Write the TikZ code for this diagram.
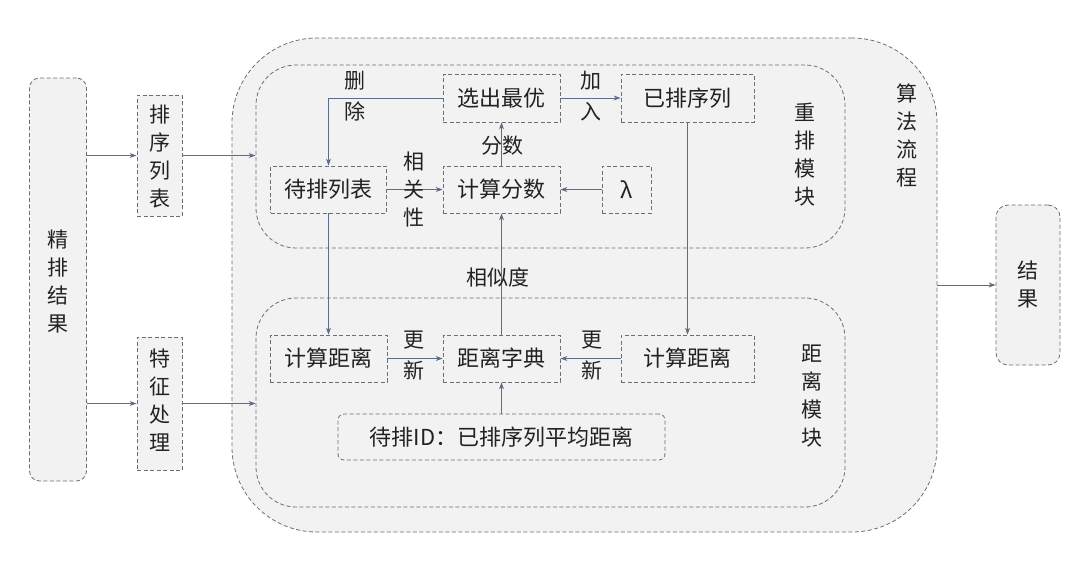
\documentclass[tikz,border=0pt]{standalone}
\usepackage{fontspec}
\newfontfamily\cjk{Noto Sans CJK SC}
\usetikzlibrary{arrows.meta}
\definecolor{boxfill}{HTML}{F2F2F2}
\definecolor{bordergray}{HTML}{6E6E6E}
\definecolor{arrowcol}{HTML}{5B6E88}
\definecolor{txt}{HTML}{222222}
\tikzset{
  base/.style={draw=bordergray, dash pattern=on 4pt off 2.5pt, fill=boxfill, line width=0.8pt, inner sep=0pt, text=txt},
  stepbox/.style={base, font=\cjk\fontsize{22}{28}\selectfont},
  container/.style={base},
  vlabel/.style={font=\cjk\fontsize{21}{28}\selectfont, align=center, inner sep=0pt, text=txt},
  elabel/.style={font=\cjk\fontsize{21}{31}\selectfont, align=center, inner sep=0pt, text=txt},
  arr/.style={draw=arrowcol, line width=0.8pt, -{Stealth[length=7pt,width=5pt]}},
}
\begin{document}
\begin{tikzpicture}[x=1pt,y=-1pt]
\useasboundingbox (0,0) rectangle (1080,563);
% containers
\node[container, rounded corners=85pt, minimum width=705pt, minimum height=494pt] (algo) at (584.5,285) {};
\node[container, rounded corners=40pt, minimum width=589pt, minimum height=183pt] (rerank) at (550.5,156.5) {};
\node[container, rounded corners=40pt, minimum width=589pt, minimum height=209pt] (distmod) at (550.5,402.5) {};
\node[container, rounded corners=10pt, minimum width=57pt, minimum height=403pt] (fine) at (58,279.5) {};
\node[container, rounded corners=12pt, minimum width=64pt, minimum height=160pt] (result) at (1028,285) {};
\node[stepbox, minimum width=45pt, minimum height=121pt] (sortlist) at (159.5,155.5) {};
\node[stepbox, minimum width=45pt, minimum height=133pt] (feat) at (159.5,403.5) {};
% vertical texts
\node[vlabel] (fineT) at (58,282) {精\\排\\结\\果};
\node[vlabel] (sortT) at (159.5,157) {排\\序\\列\\表};
\node[vlabel] (featT) at (159.5,400) {特\\征\\处\\理};
\node[vlabel] (resT) at (1028,285) {结\\果};
\node[vlabel] (algoT) at (907,135) {算\\法\\流\\程};
\node[vlabel] (rerankT) at (805,155) {重\\排\\模\\块};
\node[vlabel] (distT) at (812,396) {距\\离\\模\\块};
% step boxes
\node[stepbox, minimum width=117pt, minimum height=48pt] (best) at (501.5,98) {选出最优};
\node[stepbox, minimum width=133pt, minimum height=48pt] (sorted) at (687.5,98) {已排序列};
\node[stepbox, minimum width=116pt, minimum height=47pt] (todo) at (328.5,189.5) {待排列表};
\node[stepbox, minimum width=117pt, minimum height=47pt] (calc) at (501.5,189.5) {计算分数};
\node[stepbox, minimum width=49pt, minimum height=47pt] (lam) at (626.5,189.5) {λ};
\node[stepbox, minimum width=117pt, minimum height=47pt] (distL) at (328.5,358.5) {计算距离};
\node[stepbox, minimum width=117pt, minimum height=47pt] (dict) at (501.5,358.5) {距离字典};
\node[stepbox, minimum width=133pt, minimum height=47pt] (distR) at (687.5,358.5) {计算距离};
\node[stepbox, rounded corners=6pt, minimum width=327pt, minimum height=46pt] (avg) at (501.5,437) {待排ID：已排序列平均距离};
% arrows
\draw[arr] (fine.east |- sortlist.west) -- (sortlist.west);
\draw[arr] (fine.east |- feat.west) -- (feat.west);
\draw[arr] (sortlist.east) -- (sortlist.east -| rerank.west);
\draw[arr] (feat.east) -- (feat.east -| distmod.west);
\draw[arr] (best.west) -| (todo.north);
\draw[arr] (best.east) -- (sorted.west);
\draw[arr] (calc.north) -- (best.south);
\draw[arr] (todo.east) -- (calc.west);
\draw[arr] (lam.west) -- (calc.east);
\draw[arr] (todo.south) -- (distL.north);
\draw[arr] (dict.north) -- (calc.south);
\draw[arr] (distL.east) -- (dict.west);
\draw[arr] (distR.west) -- (dict.east);
\draw[arr] (avg.north) -- (dict.south);
\draw[arr] (sorted.south) -- (distR.north);
\draw[arr] (algo.east) -- (result.west);
% edge labels
\node[elabel] (delT) at (355,96) {删\\除};
\node[elabel] (addT) at (591,96) {加\\入};
\node[elabel] (scoreT) at (502,146) {分数};
\node[elabel, font=\cjk\fontsize{21}{28}\selectfont] (relT) at (414,190) {相\\关\\性};
\node[elabel] (simT) at (498,277) {相似度};
\node[elabel] (upL) at (414,356) {更\\新};
\node[elabel] (upR) at (592,356) {更\\新};
\end{tikzpicture}
\end{document}
